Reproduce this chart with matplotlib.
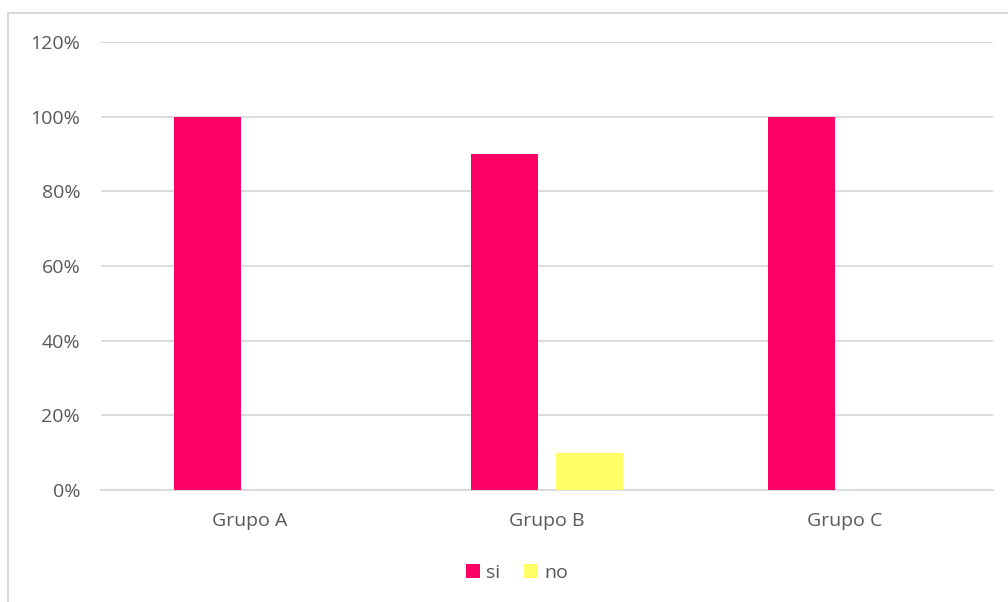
import matplotlib
matplotlib.use("Agg")
import matplotlib.pyplot as plt
import numpy as np
from matplotlib.patches import Rectangle
from matplotlib.ticker import FuncFormatter

# ----------------------------- data -----------------------------
groups = ["Grupo A", "Grupo B", "Grupo C"]
si = [1.00, 0.90, 1.00]
no = [0.00, 0.10, 0.00]
yticks = [0, 0.2, 0.4, 0.6, 0.8, 1.0, 1.2]

PINK = "#FF0066"
YELLOW = "#FFFF66"
TEXT = "#595959"
GRID = "#D9D9D9"
FS = 14

plt.rcParams["font.family"] = ["Open Sans", "DejaVu Sans"]

W, H = 1008, 602
fig = plt.figure(figsize=(W / 100, H / 100), dpi=100)

# chart frame (right/bottom edges fall outside the picture)
fig.patches.append(Rectangle((8 / W, -0.1), 1.2, 1 - 13 / H + 0.1, transform=fig.transFigure,
                             fill=False, edgecolor=GRID, linewidth=1.5))

ax = fig.add_axes([101 / W, 1 - 490 / H, (993 - 101) / W, (490 - 42) / H])
x = np.arange(len(groups))
bw = 0.225
off = 0.143
ax.bar(x - off, si, bw, color=PINK, label="si", zorder=3)
ax.bar(x + off, no, bw, color=YELLOW, label="no", zorder=3)

ax.set_xlim(-0.5, len(groups) - 0.5)
ax.set_ylim(0, 1.2)
ax.set_yticks(yticks)
ax.yaxis.set_major_formatter(FuncFormatter(lambda v, p: f"{v * 100:.0f}%"))
ax.set_xticks(x)
ax.set_xticklabels(groups)
ax.grid(axis="y", color=GRID, linewidth=1.3, zorder=0)
ax.set_axisbelow(True)
for s in ["top", "right", "left"]:
    ax.spines[s].set_visible(False)
ax.spines["bottom"].set_color(GRID)
ax.spines["bottom"].set_linewidth(1.3)
ax.tick_params(axis="both", length=0, colors=TEXT, labelsize=FS)
ax.tick_params(axis="y", pad=15)
ax.tick_params(axis="x", pad=16)

fig.legend(loc="center", bbox_to_anchor=(517 / W, 1 - 573 / H), ncol=2, frameon=False,
           fontsize=FS, labelcolor=TEXT, handlelength=0.75, handleheight=0.75,
           handletextpad=0.3, columnspacing=1.2)

fig.savefig("out.png", dpi=100)
